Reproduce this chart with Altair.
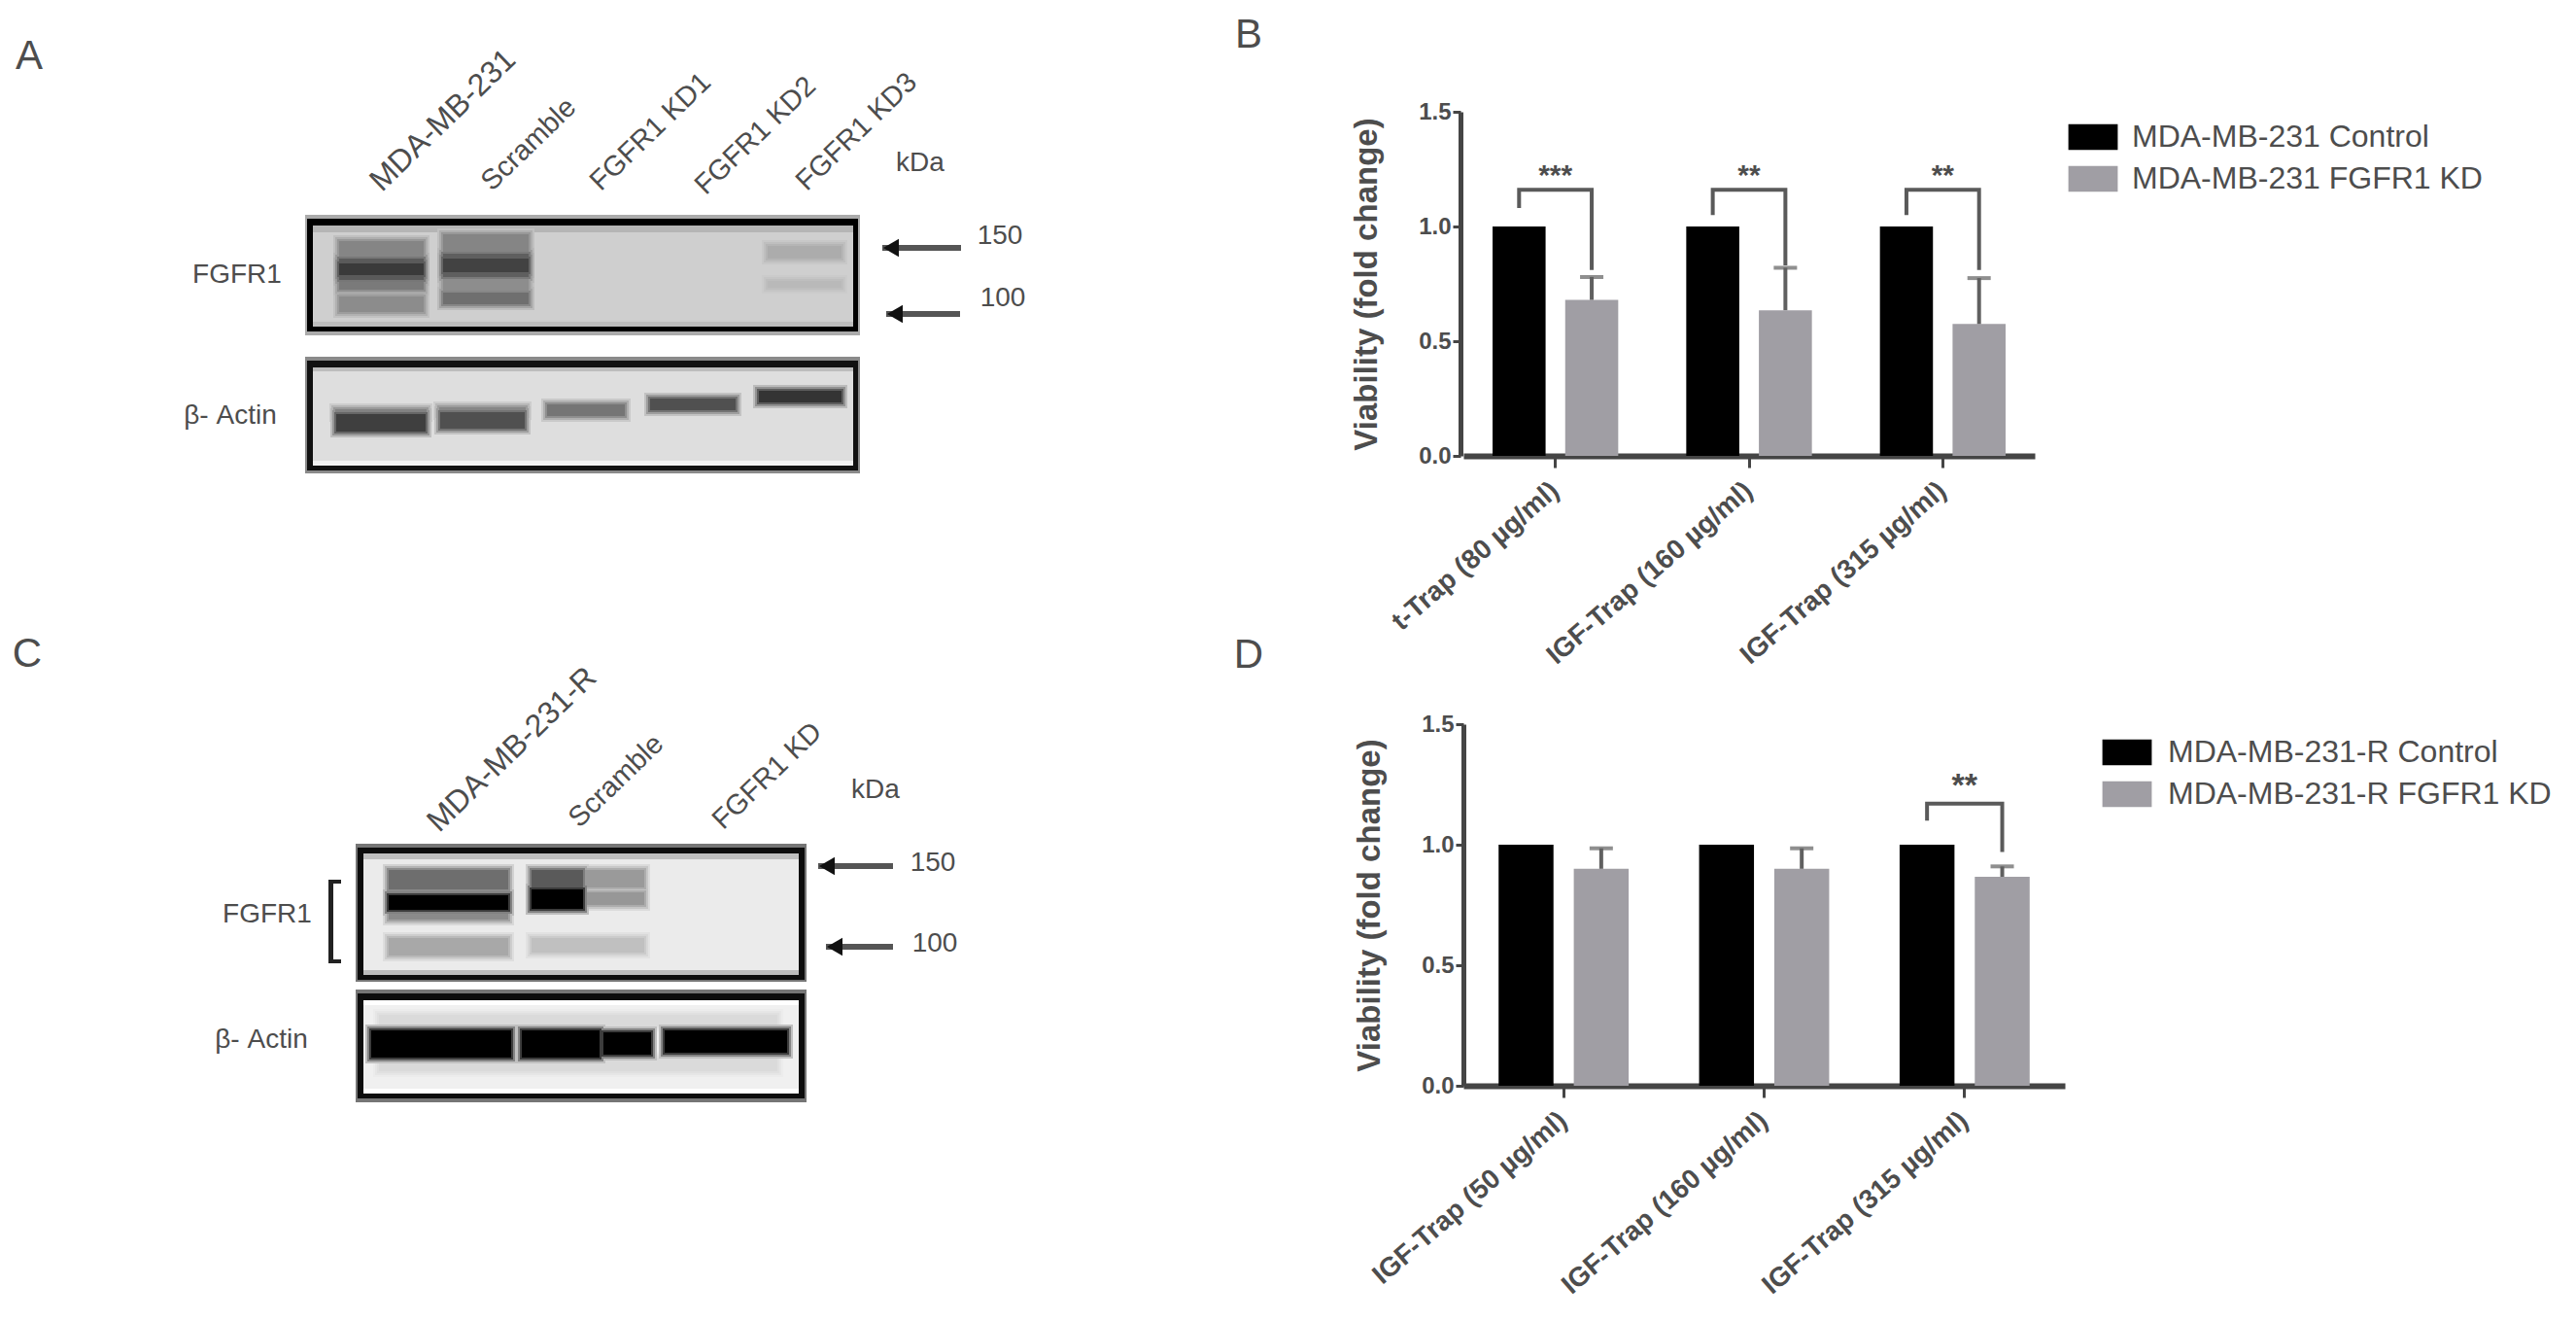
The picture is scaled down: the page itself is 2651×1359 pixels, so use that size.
import altair as alt
import pandas as pd

FONT = "Liberation Sans"
TXT = "#4d4d4d"

# ---------- bar panels ----------
series_b = ["MDA-MB-231 Control", "MDA-MB-231 FGFR1 KD"]
cats_b = ["t-Trap (80 µg/ml)", "IGF-Trap (160 µg/ml)", "IGF-Trap (315 µg/ml)"]
control_b = [1.0, 1.0, 1.0]
kd_b = [0.68, 0.635, 0.575]
kd_top_b = [0.78, 0.82, 0.775]
stars_b = ["***", "**", "**"]
star_y_b = [1.22, 1.22, 1.22]
bracket_top_b = [1.16, 1.16, 1.16]
bracket_left_b = [1.08, 1.05, 1.05]
bracket_right_b = [0.81, 0.83, 0.81]

series_d = ["MDA-MB-231-R Control", "MDA-MB-231-R FGFR1 KD"]
cats_d = ["IGF-Trap (50 µg/ml)", "IGF-Trap (160 µg/ml)", "IGF-Trap (315 µg/ml)"]
control_d = [1.0, 1.0, 1.0]
kd_d = [0.90, 0.90, 0.867]
kd_top_d = [0.985, 0.985, 0.91]
stars_d = ["**"]
star_y_d = [1.24]
star_cat_d = [cats_d[2]]
bracket_top_d = [1.17]
bracket_left_d = [1.10]
bracket_right_d = [0.97]

BLACK, GREY = "#000000", "#a09ea4"
DARK = "#454545"


def bar_panel(cats, series, control, kd, kd_top, star_cats, stars, star_y,
              top, left, right, width, height, lx, ly, outer, y_off, star_size, label_off):
    bars = pd.DataFrame(
        [{"cat": c, "series": series[0], "value": v} for c, v in zip(cats, control)]
        + [{"cat": c, "series": series[1], "value": v} for c, v in zip(cats, kd)]
    )
    errs = pd.DataFrame({"cat": cats, "series": series[1], "value": kd, "top": kd_top})
    br = []
    for i, c in enumerate(star_cats):
        br += [
            {"cat": c, "series": series[0], "y": left[i], "o": 0},
            {"cat": c, "series": series[0], "y": top[i], "o": 1},
            {"cat": c, "series": series[1], "y": top[i], "o": 2},
            {"cat": c, "series": series[1], "y": right[i], "o": 3},
        ]
    br = pd.DataFrame(br)
    st = pd.DataFrame({"cat": star_cats, "text": stars, "y": star_y})

    xs = alt.Scale(domain=cats, paddingInner=0.25, paddingOuter=outer)
    os_ = alt.Scale(domain=series, paddingInner=0.27, paddingOuter=0.135)
    ys = alt.Scale(domain=[0, 1.5], nice=False)
    xenc = alt.X("cat:N", scale=xs, title=None, axis=alt.Axis(
        labelAngle=-41, labelAlign="right", labelBaseline="middle",
        labelFont=FONT, labelFontWeight="bold", labelFontSize=28, labelColor=TXT,
        labelLimit=600, labelPadding=20, labelOverlap=False,
        domainColor=DARK, domainWidth=6, tickColor=DARK, tickWidth=3, tickSize=12, grid=False))
    yenc = alt.Y("value:Q", scale=ys, title="Viability (fold change)", axis=alt.Axis(
        values=[0, 0.5, 1.0, 1.5], format=".1f", offset=y_off,
        labelFont=FONT, labelFontWeight="bold", labelFontSize=24, labelColor=TXT,
        titleFont=FONT, titleFontWeight="bold", titleFontSize=33, titleColor=TXT, titlePadding=36,
        domainColor=DARK, domainWidth=5, tickColor=DARK, tickWidth=3, tickSize=8, grid=False))
    off = alt.XOffset("series:N", scale=os_)

    bar = alt.Chart(bars).mark_bar().encode(
        x=xenc, xOffset=off, y=yenc,
        color=alt.Color("series:N", scale=alt.Scale(domain=series, range=[BLACK, GREY]),
                        legend=alt.Legend(
                            orient="none", legendX=lx, legendY=ly, title=None,
                            symbolType="M-1.92,-1H1.92V1H-1.92Z", symbolSize=700,
                            symbolStrokeWidth=0, labelFont=FONT, labelFontSize=32,
                            labelColor=TXT, labelOffset=label_off, labelLimit=700, rowPadding=11)),
    )
    rule = alt.Chart(errs).mark_rule(color="#606060", strokeWidth=4).encode(
        x=alt.X("cat:N", scale=xs), xOffset=off,
        y=alt.Y("value:Q", scale=ys), y2="top:Q")
    cap = alt.Chart(errs).mark_tick(color="#606060", thickness=4, size=24).encode(
        x=alt.X("cat:N", scale=xs), xOffset=off, y=alt.Y("top:Q", scale=ys))
    bracket = alt.Chart(br).mark_line(color="#5a5a5a", strokeWidth=4).encode(
        x=alt.X("cat:N", scale=xs), xOffset=off,
        y=alt.Y("y:Q", scale=ys), detail="cat:N", order="o:Q")
    star = alt.Chart(st).mark_text(font=FONT, fontWeight="bold", fontSize=star_size, color=TXT,
                                   baseline="middle").encode(
        x=alt.X("cat:N", scale=xs), y=alt.Y("y:Q", scale=ys), text="text:N")
    return alt.layer(bar, rule, cap, bracket, star).properties(width=width, height=height)


# ---------- western blots ----------
frames_a = [
    (314, 885, 223, 347, "#ababab"), (316, 883, 227, 343, "#000000"),
    (322, 878, 234, 338, "#cfcfcf"), (322, 878, 234, 241, "#b5b5b5"), (322, 878, 333, 338, "#bdbdbd"),
    (314, 885, 369, 489, "#8a8a8a"), (316, 883, 373, 486, "#111111"),
    (322, 878, 380, 481, "#dedede"), (322, 878, 380, 384, "#bcbcbc"), (322, 878, 476, 481, "#f2f2f2"),
]
bands_a1 = [
    (349, 436, 250, 270, 133), (349, 436, 273, 285, 58), (349, 436, 268, 290, 90),
    (349, 436, 290, 300, 122), (349, 436, 300, 307, 168), (349, 436, 307, 323, 140),
    (456, 544, 243, 263, 133), (456, 544, 268, 282, 66), (456, 544, 263, 287, 95),
    (456, 544, 287, 303, 141), (456, 544, 303, 315, 111),
    (790, 866, 255, 268, 172), (790, 866, 291, 298, 185),
]
bands_a2 = [
    (346, 438, 428, 446, 63), (345, 439, 423, 430, 130),
    (453, 540, 426, 443, 80), (452, 541, 421, 428, 135),
    (563, 643, 418, 430, 117),
    (669, 757, 412, 424, 80),
    (781, 866, 404, 416, 52),
]
frames_c = [
    (366, 830, 870, 1012, "#767676"), (368, 828, 874, 1010, "#0d0d0d"),
    (374, 822, 880, 1005, "#ebebeb"), (374, 822, 880, 886, "#bfbfbf"), (374, 822, 1000, 1005, "#bcbcbc"),
    (366, 830, 1020, 1136, "#767676"), (368, 828, 1024, 1132, "#0d0d0d"),
    (374, 822, 1031, 1127, "#f0f0f0"), (374, 822, 1031, 1036, "#ffffff"), (374, 822, 1122, 1127, "#ffffff"),
]
bands_c1 = [
    (400, 523, 897, 917, 110), (400, 523, 917, 948, 138), (400, 523, 923, 938, 0),
    (547, 600, 897, 917, 90), (547, 600, 917, 937, 0),
    (600, 663, 897, 915, 154), (600, 663, 920, 933, 151),
    (400, 523, 967, 985, 168), (547, 663, 967, 982, 192),
]
bands_c2 = [
    (382, 526, 1062, 1090, 0), (537, 617, 1062, 1090, 0),
    (621, 670, 1064, 1087, 0), (684, 810, 1062, 1085, 0),
    (390, 800, 1090, 1104, 218), (390, 800, 1046, 1058, 218),
]
bracket_c = [(338, 343, 907, 993, "#222222"), (338, 351, 907, 911, "#222222"),
             (338, 351, 989, 993, "#222222")]

labels_rot_a = ["MDA-MB-231", "Scramble", "FGFR1 KD1", "FGFR1 KD2", "FGFR1 KD3"]
labels_rot_ax = [386, 500, 612, 720, 824]
labels_rot_ay = [193, 193, 193, 197, 193]
labels_rot_as = [32, 29, 29, 29, 29]
labels_flat_a = ["A", "B", "FGFR1", "β- Actin", "kDa", "150", "100"]
labels_flat_ax = [30, 1285, 244, 237, 947, 1029, 1032]
labels_flat_ay = [60, 38, 285, 430, 170, 245, 309]
labels_flat_as = [42, 42, 28, 28, 28, 28, 28]
arrows_a = [(908, 989, 257), (912, 988, 325)]

labels_rot_c = ["MDA-MB-231-R", "Scramble", "FGFR1 KD"]
labels_rot_cx = [445, 590, 738]
labels_rot_cy = [852, 848, 850]
labels_rot_cs = [32, 29, 29]
labels_flat_c = ["C", "D", "FGFR1", "β- Actin", "kDa", "150", "100"]
labels_flat_cx = [28, 1285, 275, 269, 901, 960, 962]
labels_flat_cy = [675, 676, 943, 1072, 815, 890, 973]
labels_flat_cs = [42, 42, 28, 28, 28, 28, 28]
arrows_c = [(842, 919, 893), (850, 919, 976)]

SOFT = [(6, 0.2), (4, 0.45), (2, 0.75), (0, 1.0)]


def soften(bands, bg):
    """Paint each blot band as nested rectangles, darkest last, for a soft edge."""
    out = []
    for x0, x1, y0, y1, g in bands:
        for e, t in SOFT:
            v = round(bg + (g - bg) * t)
            out.append((x0 - e, x1 + e, y0 - e, y1 + e, v))
    out.sort(key=lambda r: -r[4])
    return [(a, b, c, d, "#%02x%02x%02x" % (v, v, v)) for a, b, c, d, v in out]


def blot_panel(rects, rot, rotx, roty, rots, flat, fx, fy, fs, arrows, xdom, ydom, width, height):
    xs = alt.Scale(domain=xdom, nice=False, zero=False)
    ys = alt.Scale(domain=ydom, nice=False, zero=False)
    r = pd.DataFrame(rects, columns=["x0", "x1", "y0", "y1", "g"])
    r["i"] = range(len(r))
    rect = alt.Chart(r).mark_rect(clip=False).encode(
        x=alt.X("x0:Q", scale=xs, axis=None), x2="x1:Q",
        y=alt.Y("y0:Q", scale=ys, axis=None), y2="y1:Q",
        fill=alt.Fill("g:N", scale=None), order="i:Q")
    rt = pd.DataFrame({"x": rotx, "y": roty, "t": rot, "s": rots})
    rot_text = alt.Chart(rt).mark_text(font=FONT, color=TXT, angle=316,
                                       align="left", baseline="middle").encode(
        x=alt.X("x:Q", scale=xs, axis=None), y=alt.Y("y:Q", scale=ys, axis=None), text="t:N",
        size=alt.Size("s:Q", scale=None))
    ft = pd.DataFrame({"x": fx, "y": fy, "t": flat, "s": fs})
    flat_text = alt.Chart(ft).mark_text(font=FONT, color=TXT, align="center",
                                        baseline="middle").encode(
        x=alt.X("x:Q", scale=xs, axis=None), y=alt.Y("y:Q", scale=ys, axis=None), text="t:N",
        size=alt.Size("s:Q", scale=None))
    a = pd.DataFrame(arrows, columns=["tip", "tail", "y"])
    shaft = alt.Chart(a).mark_rule(color="#555555", strokeWidth=6).encode(
        x=alt.X("tip:Q", scale=xs, axis=None), x2="tail:Q", y=alt.Y("y:Q", scale=ys, axis=None))
    head = alt.Chart(a).mark_point(shape="triangle-left", filled=True, color="#111111",
                                   size=340, opacity=1, xOffset=9).encode(
        x=alt.X("tip:Q", scale=xs, axis=None), y=alt.Y("y:Q", scale=ys, axis=None))
    return alt.layer(rect, rot_text, flat_text, shaft, head).properties(width=width, height=height)


rects_a = frames_a + soften(bands_a1, 207) + soften(bands_a2, 222)
rects_c = frames_c + soften(bands_c1, 235) + soften(bands_c2, 240) + bracket_c

panel_a = blot_panel(rects_a, labels_rot_a, labels_rot_ax, labels_rot_ay, labels_rot_as,
                     labels_flat_a, labels_flat_ax, labels_flat_ay, labels_flat_as, arrows_a,
                     [8, 1498], [471, 117], 1490, 354)
panel_c = blot_panel(rects_c, labels_rot_c, labels_rot_cx, labels_rot_cy, labels_rot_cs,
                     labels_flat_c, labels_flat_cx, labels_flat_cy, labels_flat_cs, arrows_c,
                     [8, 1506], [1119, 747], 1498, 372)
panel_b = bar_panel(cats_b, series_b, control_b, kd_b, kd_top_b, cats_b, stars_b, star_y_b,
                    bracket_top_b, bracket_left_b, bracket_right_b, 588, 354, 632, 10, 0.1, 3, 30, 24)
panel_d = bar_panel(cats_d, series_d, control_d, kd_d, kd_top_d, star_cat_d, stars_d, star_y_d,
                    bracket_top_d, bracket_left_d, bracket_right_d, 619, 372, 667, 13, 0.125, 0, 34, 26)

chart = alt.concat(panel_a, panel_b, panel_c, panel_d, columns=2, align="none", bounds="flush",
                   spacing={"row": 276, "column": 0}).properties(
    padding={"left": 0, "top": 7, "right": 0, "bottom": 0}
).resolve_scale(color="independent", xOffset="independent").resolve_legend(color="independent"
).configure_view(strokeWidth=0, stroke=None)

chart.save("out.html", embed_options={"renderer": "svg", "actions": False})
